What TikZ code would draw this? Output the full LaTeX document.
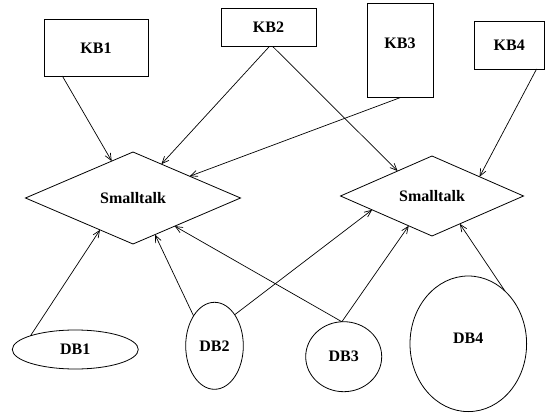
\documentclass[tikz,border=0pt]{standalone}
\usepackage{fontspec}
\setmainfont{Liberation Serif}
\usetikzlibrary{shapes.geometric,arrows.meta}
\begin{document}
\begin{tikzpicture}[x=1pt,y=-1pt,
  every node/.style={font=\fontsize{16}{18}\selectfont\bfseries, inner sep=0pt, outer sep=0pt},
  kbbox/.style={draw, rectangle, line width=0.8pt},
  dbell/.style={draw, ellipse, line width=0.8pt},
  kite/.style={draw, diamond, line width=0.8pt},
  link/.style={line width=0.7pt, -{Straight Barb[length=7pt,width=6pt]}}]
\useasboundingbox (0,0) rectangle (545,419);
% knowledge bases
\node[kbbox, minimum width=104pt, minimum height=56.5pt] (kb1) at (96,47.75) {KB1};
\node[kbbox, minimum width=95pt, minimum height=38.4pt] (kb2) at (268.5,27.5) {KB2};
\node[kbbox, minimum width=66pt, minimum height=94.4pt, text depth=14pt] (kb3) at (400,50.5) {KB3};
\node[kbbox, minimum width=70.5pt, minimum height=47.5pt] (kb4) at (509.25,45.25) {KB4};
% Smalltalk diamonds
\node[kite, minimum width=215pt, minimum height=92pt] (d1) at (133,198) {Smalltalk};
\node[kite, minimum width=183pt, minimum height=80pt] (d2) at (432,196) {Smalltalk};
% databases
\node[dbell, minimum width=126pt, minimum height=39pt] (db1) at (75.3,349.5) {DB1};
\node[dbell, minimum width=57.6pt, minimum height=87pt] (db2) at (214.5,345.8) {DB2};
\node[dbell, minimum width=76pt, minimum height=70pt] (db3) at (343.7,356.7) {DB3};
\node[dbell, minimum width=116.6pt, minimum height=135.6pt, text depth=12pt] (db4) at (468.3,343.8) {DB4};
% connectors
\draw[link] (kb1.220) -- (d1.120);
\draw[link] (kb2.272) -- (d1.50);
\draw[link] (kb2.283) -- (d2.144);
\draw[link] (kb3.south) -- (d1.21);
\draw[link] (kb4.319) -- (d2.22);
\draw[link] (db1.163) -- (d1.224);
\draw[link] (db2.125) -- (d1.301);
\draw[link] (db2.57) -- (d2.193);
\draw[link] (db3.93) -- (d1.326);
\draw[link] (db3.93) -- (d2.232);
\draw[link] (db4.55) -- (d2.315);
\end{tikzpicture}
\end{document}
